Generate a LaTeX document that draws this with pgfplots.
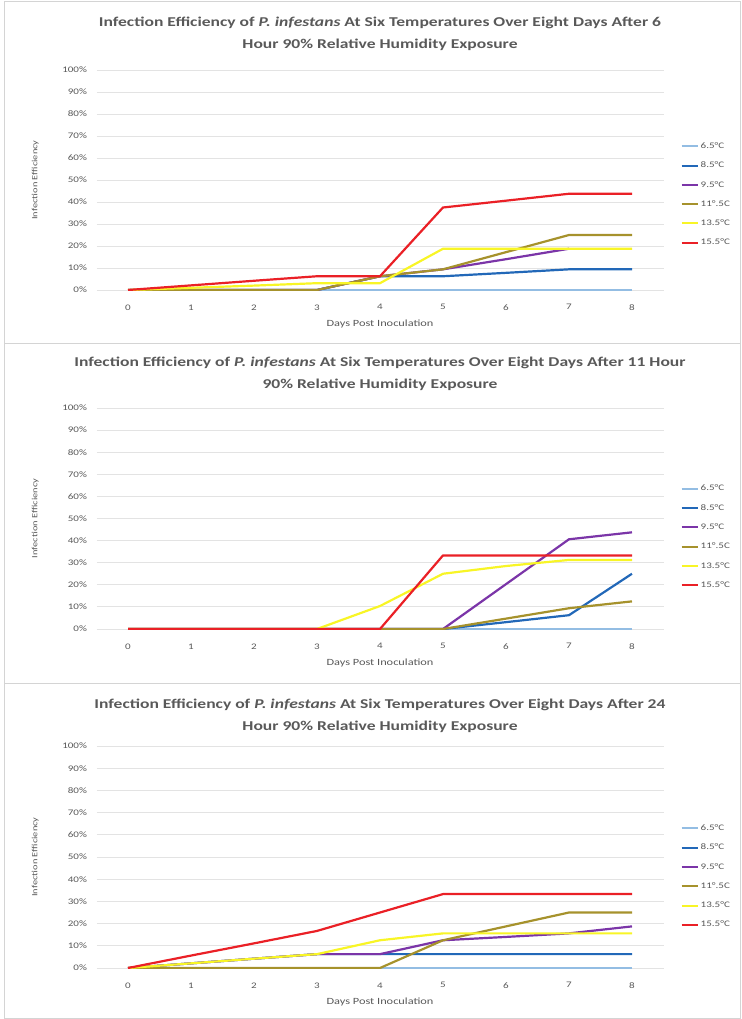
\documentclass[border=0pt]{standalone}
\usepackage{fontspec}
\setmainfont{Carlito}[FakeStretch=1.3]
\usepackage{pgfplots}
\pgfplotsset{compat=1.18}
\definecolor{txtgray}{HTML}{595959}
\definecolor{gridgray}{HTML}{E3E3E3}
\definecolor{framegray}{HTML}{D4D4D4}
\definecolor{cA}{HTML}{93BDE3}
\definecolor{cB}{HTML}{2268B8}
\definecolor{cC}{HTML}{7B35A8}
\definecolor{cD}{HTML}{A6922C}
\definecolor{cE}{HTML}{F8F526}
\definecolor{cF}{HTML}{EA2026}
\pgfplotsset{
  panel/.style={
    anchor=south west, scale only axis, width=567pt,
    xmin=-0.5, xmax=8.5, ymin=0, ymax=100,
    xtick={0,...,8}, ytick={0,10,...,100},
    yticklabel={\pgfmathprintnumber{\tick}\%},
    /pgf/number format/assume math mode=true,
    ymajorgrids, grid style={color=gridgray, line width=0.9pt},
    axis line style={draw=none}, tick style={draw=none},
    tick label style={font=\fontsize{8.5}{10}\selectfont, text=txtgray},
    xticklabel style={yshift=-11pt},
    yticklabel style={xshift=-6pt},
    xlabel={Days Post Inoculation},
    xlabel style={font=\fontsize{9.5}{10}\selectfont, text=txtgray, at={(axis description cs:0.5,0)}, anchor=center, yshift=-34pt},
    ylabel={Infection Efficiency},
    ylabel style={font=\fontsize{8}{10}\selectfont, text=txtgray, at={(axis description cs:-0.108,0.5)}, anchor=center, rotate=0},
    legend cell align=left,
    legend style={draw=none, fill=none, font=\fontsize{8.5}{10}\selectfont, text=txtgray, anchor=west, row sep=8pt, inner sep=0pt},
    legend image code/.code={\draw[#1, line width=2pt] (0pt,0pt) -- (16pt,0pt);},
    every axis plot/.append style={line width=2.2pt, no markers, line join=round},
  },
}
\begin{document}
\begin{tikzpicture}[x=1pt,y=1pt]
\path[use as bounding box] (0,0) rectangle (741,-1019);
\draw[framegray, line width=0.8pt] (4,-1) rectangle (740,-343);
\draw[framegray, line width=0.8pt] (4,-343) rectangle (740,-683);
\draw[framegray, line width=0.8pt] (4,-683) rectangle (740,-1018);

% ---------- Panel 1 ----------
\node[align=center, font=\fontsize{13.5}{22}\selectfont\bfseries, text=txtgray] at (380,-34)
 {Infection Efficiency of \textit{P. infestans} At Six Temperatures Over Eight Days After 6\\Hour 90\% Relative Humidity Exposure};
\begin{axis}[panel, at={(96.5pt,-290pt)}, height=220pt,
  legend style={at={(axis description cs:1.03,0.434)}}]
\addplot[cA] coordinates {(0,0) (1,0) (2,0) (3,0) (4,0) (5,0) (6,0) (7,0) (8,0)};
\addlegendentry{6.5°C}
\addplot[cB] coordinates {(0,0) (1,0) (2,0) (3,0) (4,6.25) (5,6.25) (6,7.8) (7,9.4) (8,9.4)};
\addlegendentry{8.5°C}
\addplot[cC] coordinates {(0,0) (1,0) (2,0) (3,0) (4,6.25) (5,9.4) (6,14) (7,18.75)};
\addlegendentry{9.5°C}
\addplot[cD] coordinates {(0,0) (1,0) (2,0) (3,0) (4,6.25) (5,9.4) (6,17.2) (7,25) (8,25)};
\addlegendentry{11°.5C}
\addplot[cE] coordinates {(0,0) (1,1) (2,2) (3,3.1) (4,3.1) (5,18.75) (6,18.75) (7,18.75) (8,18.75)};
\addlegendentry{13.5°C}
\addplot[cF] coordinates {(0,0) (1,2.1) (2,4.2) (3,6.25) (4,6.25) (5,37.5) (6,40.6) (7,43.75) (8,43.75)};
\addlegendentry{15.5°C}
\end{axis}

% ---------- Panel 2 ----------
\node[align=center, font=\fontsize{13.5}{22}\selectfont\bfseries, text=txtgray] at (380,-374)
 {Infection Efficiency of \textit{P. infestans} At Six Temperatures Over Eight Days After 11 Hour\\90\% Relative Humidity Exposure};
\begin{axis}[panel, at={(96.5pt,-629pt)}, height=221pt,
  legend style={at={(axis description cs:1.03,0.416)}}]
\addplot[cA] coordinates {(0,0) (1,0) (2,0) (3,0) (4,0) (5,0) (6,0) (7,0) (8,0)};
\addlegendentry{6.5°C}
\addplot[cB] coordinates {(0,0) (1,0) (2,0) (3,0) (4,0) (5,0) (6,3.1) (7,6.25) (8,25)};
\addlegendentry{8.5°C}
\addplot[cC] coordinates {(0,0) (1,0) (2,0) (3,0) (4,0) (5,0) (6,20.3) (7,40.6) (8,43.75)};
\addlegendentry{9.5°C}
\addplot[cD] coordinates {(0,0) (1,0) (2,0) (3,0) (4,0) (5,0) (6,4.7) (7,9.4) (8,12.5)};
\addlegendentry{11°.5C}
\addplot[cE] coordinates {(0,0) (1,0) (2,0) (3,0) (4,10.4) (5,25) (6,28.5) (7,31.25) (8,31.25)};
\addlegendentry{13.5°C}
\addplot[cF] coordinates {(0,0) (1,0) (2,0) (3,0) (4,0) (5,33.3) (6,33.3) (7,33.3) (8,33.3)};
\addlegendentry{15.5°C}
\end{axis}

% ---------- Panel 3 ----------
\node[align=center, font=\fontsize{13.5}{22}\selectfont\bfseries, text=txtgray] at (380,-716)
 {Infection Efficiency of \textit{P. infestans} At Six Temperatures Over Eight Days After 24\\Hour 90\% Relative Humidity Exposure};
\begin{axis}[panel, at={(96.5pt,-968pt)}, height=222pt,
  legend style={at={(axis description cs:1.03,0.412)}}]
\addplot[cA] coordinates {(0,0) (1,0) (2,0) (3,0) (4,0) (5,0) (6,0) (7,0) (8,0)};
\addlegendentry{6.5°C}
\addplot[cB] coordinates {(0,0) (1,2.1) (2,4.2) (3,6.25) (4,6.25) (5,6.25) (6,6.25) (7,6.25) (8,6.25)};
\addlegendentry{8.5°C}
\addplot[cC] coordinates {(0,0) (1,2.1) (2,4.2) (3,6.25) (4,6.25) (5,12.5) (6,14) (7,15.6) (8,18.75)};
\addlegendentry{9.5°C}
\addplot[cD] coordinates {(0,0) (1,0) (2,0) (3,0) (4,0) (5,12.5) (6,18.75) (7,25) (8,25)};
\addlegendentry{11°.5C}
\addplot[cE] coordinates {(0,0) (1,2.1) (2,4.2) (3,6.25) (4,12.5) (5,15.6) (6,15.6) (7,15.6) (8,15.6)};
\addlegendentry{13.5°C}
\addplot[cF] coordinates {(0,0) (1,5.6) (2,11.1) (3,16.7) (4,25) (5,33.3) (6,33.3) (7,33.3) (8,33.3)};
\addlegendentry{15.5°C}
\end{axis}
\end{tikzpicture}
\end{document}
